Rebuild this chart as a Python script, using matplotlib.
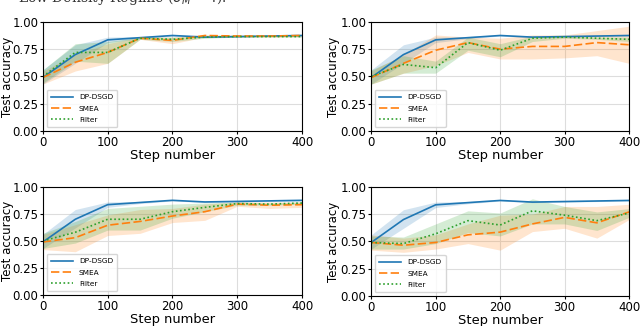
import numpy as np
import matplotlib
matplotlib.use('Agg')
import matplotlib.pyplot as plt

steps = [0, 50, 100, 150, 200, 250, 300, 350, 400]

# mean accuracy for each of the four settings
dpdsgd = [0.49, 0.70, 0.835, 0.855, 0.875, 0.86, 0.865, 0.87, 0.875]
dpdsgd_lo = [0.43, 0.62, 0.81, 0.845, 0.87, 0.855, 0.86, 0.865, 0.87]
dpdsgd_hi = [0.56, 0.79, 0.86, 0.865, 0.88, 0.865, 0.87, 0.875, 0.88]

smea = [
    [0.49, 0.63, 0.72, 0.85, 0.83, 0.875, 0.87, 0.87, 0.875],
    [0.49, 0.62, 0.74, 0.81, 0.75, 0.775, 0.775, 0.81, 0.79],
    [0.49, 0.53, 0.645, 0.68, 0.73, 0.77, 0.84, 0.83, 0.835],
    [0.49, 0.465, 0.49, 0.56, 0.585, 0.66, 0.72, 0.67, 0.77],
]
smea_lo = [
    [0.43, 0.55, 0.62, 0.84, 0.80, 0.86, 0.86, 0.86, 0.865],
    [0.43, 0.53, 0.60, 0.72, 0.66, 0.66, 0.67, 0.69, 0.62],
    [0.42, 0.40, 0.55, 0.57, 0.67, 0.69, 0.82, 0.80, 0.81],
    [0.42, 0.40, 0.43, 0.48, 0.42, 0.59, 0.62, 0.53, 0.70],
]
smea_hi = [
    [0.55, 0.70, 0.80, 0.86, 0.86, 0.885, 0.88, 0.88, 0.885],
    [0.55, 0.70, 0.88, 0.86, 0.85, 0.88, 0.88, 0.92, 0.96],
    [0.56, 0.65, 0.74, 0.79, 0.80, 0.84, 0.86, 0.86, 0.86],
    [0.56, 0.53, 0.56, 0.66, 0.74, 0.75, 0.82, 0.82, 0.84],
]

filt = [
    [0.50, 0.72, 0.72, 0.85, 0.84, 0.86, 0.865, 0.865, 0.865],
    [0.50, 0.61, 0.58, 0.81, 0.74, 0.85, 0.86, 0.85, 0.84],
    [0.50, 0.58, 0.70, 0.70, 0.77, 0.81, 0.845, 0.84, 0.85],
    [0.49, 0.48, 0.57, 0.69, 0.65, 0.78, 0.74, 0.69, 0.76],
]
filt_lo = [
    [0.44, 0.64, 0.62, 0.84, 0.82, 0.85, 0.86, 0.86, 0.86],
    [0.43, 0.53, 0.53, 0.74, 0.68, 0.82, 0.85, 0.84, 0.82],
    [0.43, 0.48, 0.60, 0.60, 0.71, 0.77, 0.83, 0.83, 0.84],
    [0.43, 0.43, 0.48, 0.58, 0.55, 0.66, 0.66, 0.60, 0.72],
]
filt_hi = [
    [0.56, 0.80, 0.82, 0.86, 0.86, 0.87, 0.87, 0.87, 0.87],
    [0.56, 0.69, 0.64, 0.86, 0.80, 0.87, 0.87, 0.86, 0.86],
    [0.57, 0.68, 0.80, 0.82, 0.84, 0.85, 0.86, 0.85, 0.86],
    [0.55, 0.54, 0.66, 0.78, 0.76, 0.89, 0.82, 0.77, 0.80],
]

fig = plt.figure(figsize=(6.4, 3.26), dpi=100)
positions = [
    [0.067, 0.598, 0.405, 0.335],
    [0.580, 0.598, 0.403, 0.335],
    [0.067, 0.095, 0.405, 0.332],
    [0.580, 0.092, 0.403, 0.335],
]
ylabel_x = [-0.137, -0.145, -0.137, -0.145]

blue, orange, green = '#1f77b4', '#ff7f0e', '#2ca02c'

for i, pos in enumerate(positions):
    ax = fig.add_axes(pos)
    ax.fill_between(steps, dpdsgd_lo, dpdsgd_hi, color=blue, alpha=0.2, lw=0)
    ax.fill_between(steps, smea_lo[i], smea_hi[i], color=orange, alpha=0.2, lw=0)
    ax.fill_between(steps, filt_lo[i], filt_hi[i], color=green, alpha=0.2, lw=0)
    ax.plot(steps, dpdsgd, color=blue, lw=1.2, label='DP-DSGD')
    ax.plot(steps, smea[i], color=orange, lw=1.2, ls=(0, (5, 2)), label='SMEA')
    ax.plot(steps, filt[i], color=green, lw=1.2, ls=(0, (1, 1.5)), label='Filter')
    ax.set_xlim(0, 400)
    ax.set_ylim(0, 1)
    ax.set_xticks([0, 100, 200, 300, 400])
    ax.set_yticks([0, 0.25, 0.5, 0.75, 1.0])
    ax.set_yticklabels(['0.00', '0.25', '0.50', '0.75', '1.00'])
    ax.tick_params(labelsize=8.5, length=2.5, pad=0.8)
    ax.grid(True, color='#dddddd', lw=0.8)
    ax.set_axisbelow(True)
    ax.set_xlabel('Step number', fontsize=9.4, labelpad=0)
    ax.set_ylabel('Test accuracy', fontsize=8.5, va='center')
    ax.yaxis.set_label_coords(ylabel_x[i], 0.5)
    ax.legend(loc='lower left', fontsize=5.3, handlelength=3, borderpad=0.6,
              labelspacing=0.7, framealpha=0.8)

fig.text(0.028, 0.995, 'Low Density Regime ($\\sigma_M = 4$).', family='DejaVu Serif',
         fontsize=10, va='baseline', ha='left', color='#333333')

fig.savefig('out.png', dpi=100)
